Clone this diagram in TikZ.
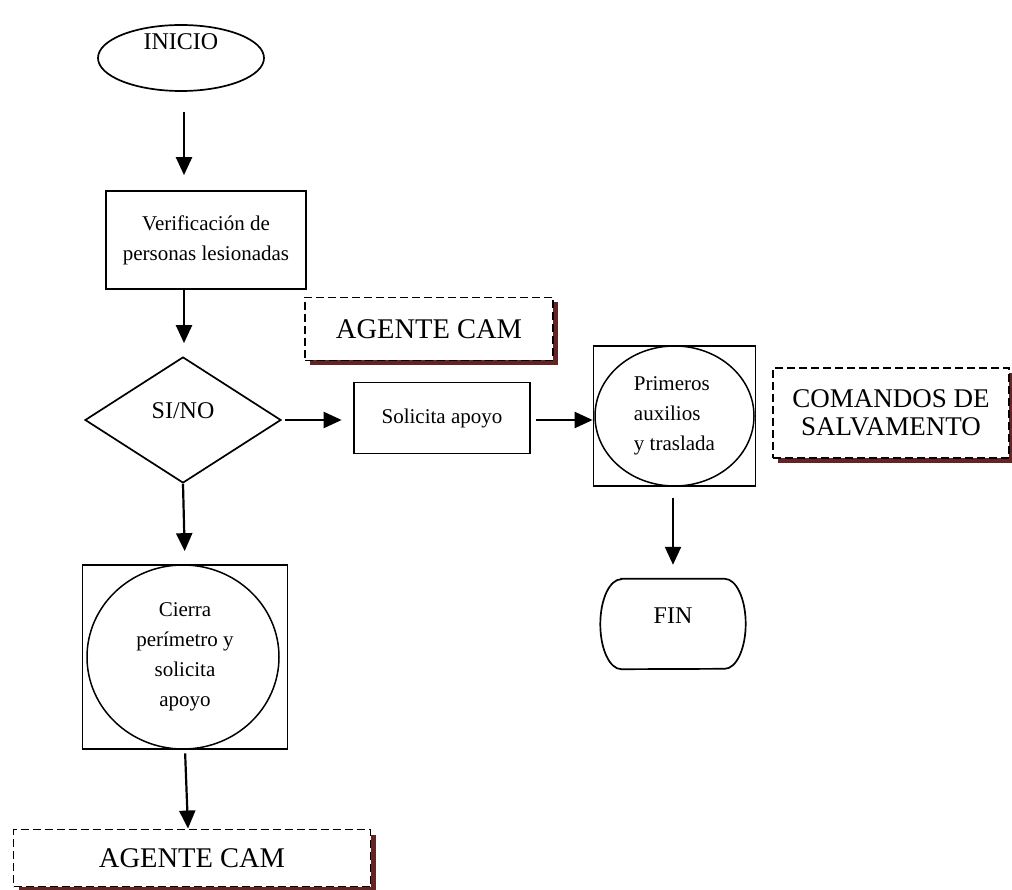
\documentclass[tikz,border=0pt]{standalone}
\usepackage{fontspec}
\setmainfont{Liberation Serif}
\usetikzlibrary{arrows.meta,shapes.geometric,shadows}
\definecolor{shadowred}{RGB}{99,36,35}
\newcommand{\fzS}{\fontsize{21}{30}\selectfont}
\newcommand{\fzM}{\fontsize{24}{28}\selectfont}
\newcommand{\fzL}{\fontsize{28.5}{33}\selectfont}
\newcommand{\fzC}{\fontsize{27}{27.6}\selectfont}
\begin{document}
\begin{tikzpicture}[x=1pt,y=-1pt,
  box/.style={draw, line width=1.7pt, inner sep=0pt},
  ring/.style={line width=1.5pt},
  arr/.style={line width=2.2pt, -{Triangle[width=16pt,length=18pt]}},
  agent/.style={draw, line width=1.9pt, dash pattern=on 8pt off 4pt, fill=white, inner sep=0pt,
    general shadow={fill=shadowred, shadow xshift=5pt, shadow yshift=-5pt}},
]
\useasboundingbox (0,0) rectangle (1012,890);

% nodes
\node[box, ellipse, minimum width=166pt, minimum height=66pt,
  label={[font=\fzM, yshift=16pt]center:INICIO}] (inicio) at (181,58) {};

\node[box, minimum width=200pt, minimum height=98pt, align=center, font=\fzS] (verif) at (206,240)
  {Verificación de\\personas lesionadas};

\node[box, diamond, minimum width=196pt, minimum height=126pt,
  label={[font=\fzM, yshift=9pt]center:SI/NO}] (dec) at (183,420) {};

\node[box, minimum width=176pt, minimum height=71pt, font=\fzS] (sol) at (442,418) {Solicita apoyo};

\node[box, minimum width=162pt, minimum height=140pt, align=left, font=\fzS] (prim) at (674.5,416)
  {Primeros\\auxilios\\y traslada};
\draw[ring] (prim.center) ellipse [x radius=79.5pt, y radius=70pt];

\node[box, minimum width=205pt, minimum height=184pt, align=center, font=\fzS] (cierra) at (185,657)
  {Cierra\\perímetro y\\solicita\\apoyo};
\draw[ring] ([xshift=-2pt]cierra.center) ellipse [x radius=96pt, y radius=92pt];

\node[minimum width=145pt, minimum height=90pt, inner sep=0pt,
  label={[font=\fzM, yshift=8pt]center:FIN}] (fin) at (673,624) {};
\draw[line width=1.7pt] ([xshift=21pt]fin.north west) -- ([xshift=-21pt]fin.north east)
  arc[start angle=90, end angle=-90, x radius=21pt, y radius=45pt]
  -- ([xshift=21pt]fin.south west)
  arc[start angle=270, end angle=90, x radius=21pt, y radius=45pt] -- cycle;

\node[agent, minimum width=248pt, minimum height=63pt, font=\fzL] (ag1) at (429,329) {AGENTE CAM};
\node[agent, minimum width=357pt, minimum height=57pt, font=\fzL] (ag2) at (192,858) {AGENTE CAM};
\node[agent, minimum width=236pt, minimum height=90pt, align=center, font=\fzC] (com) at (891,413)
  {COMANDOS DE\\SALVAMENTO};

% connectors
\draw[arr, shorten <=20pt, shorten >=15pt] ([xshift=3pt]inicio.south) -- ([xshift=3pt]inicio.south |- verif.north);
\draw[arr, shorten >=13pt] ([xshift=1pt]dec.north |- verif.south) -- ([xshift=1pt]dec.north);
\draw[arr, shorten <=3pt, shorten >=11.5pt] (dec.east) -- (dec.east -| sol.west);
\draw[arr, shorten <=5pt] ([yshift=-2pt]sol.east) -- ([yshift=-2pt]sol.east -| prim.west);
\draw[arr, shorten >=13pt] (dec.south) -- (cierra.north);
\draw[arr, shorten <=3.5pt] (cierra.south) -- ([xshift=3pt]cierra.south |- ag2.north);
\draw[arr, shorten <=11pt, shorten >=14pt] ([xshift=-1.5pt]prim.south) -- (fin.north);
\end{tikzpicture}
\end{document}
